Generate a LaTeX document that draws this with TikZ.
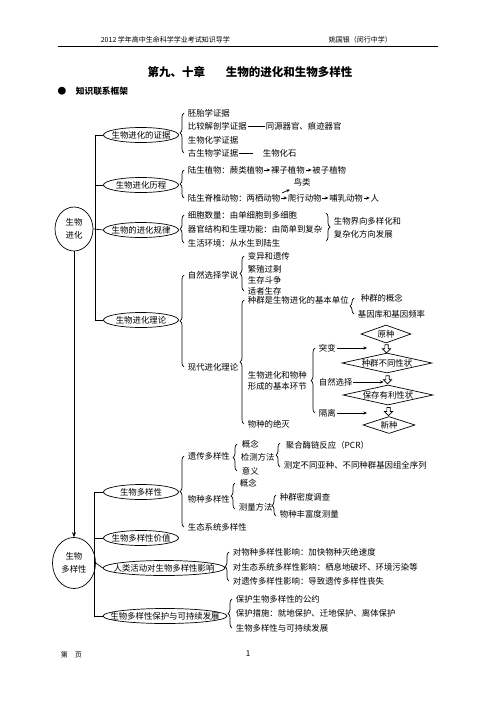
\documentclass[tikz,border=0pt]{standalone}
\usepackage{fontspec}
\setmainfont{Noto Sans CJK SC}
\usetikzlibrary{arrows.meta,shapes,calc,positioning,decorations.pathreplacing}
\tikzset{
	bubble/.style={minimum width=75,minimum height=15,inner sep=0pt},
	hub/.style={ellipse,draw,inner sep=0pt,align=center,font=\fontsize{8.4}{13}\selectfont},
	item/.style={anchor=west,inner sep=0.5pt},
	brc/.style={decorate,decoration={brace,amplitude=4pt}},
	flowbox/.style={diamond,draw,inner sep=0pt,aspect=4.5,minimum width=90,minimum height=20},
	hollow/.style={single arrow,draw,fill=white,rotate=-90,minimum height=8pt,minimum width=8pt,inner sep=1.3pt,single arrow head extend=2.5pt},
	arr/.style={-{Stealth[length=3.5pt,width=3pt]}},
}
\begin{document}
\begin{tikzpicture}[x=1pt,y=-1pt,line width=0.7pt,font=\fontsize{8.4}{10.5}\selectfont]
\useasboundingbox (0,0) rectangle (496,702);
% header
\node[item,font=\fontsize{7}{8}\selectfont] (hd) at (100,40) {2012 学年高中生命科学学业考试知识导学};
\node[item,font=\fontsize{7}{8}\selectfont] (au) at (328,40) {姚国银（闵行中学）};
\draw[line width=0.9pt] (58,46) -- (438,46);
\node[font=\bfseries\fontsize{11.5}{13}\selectfont] (title) at (250,72) {第九、十章\hspace{1.8em}生物的进化和生物多样性};
\node[font=\fontsize{8.7}{10}\selectfont] (bul) at (62,91) {●};
\node[item,font=\bfseries\fontsize{8.7}{10}\selectfont] (kf) at (75,91) {知识联系框架};

% hubs and first level
\node[hub,minimum width=38,minimum height=44] (evo) at (74,229) {生物\\进化};
\node[hub,minimum width=43,minimum height=51] (div) at (74,563) {生物\\多样性};
\node[bubble] (proof) at (141,135) {生物进化的证据};
\node[bubble] (course) at (141,185) {生物进化历程};
\node[bubble] (law) at (141,230) {生物的进化规律};
\node[bubble] (theory) at (141,320) {生物进化理论};
\node[bubble] (variety) at (141,492) {生物多样性};
\node[bubble] (value) at (141,538) {生物多样性价值};
\node[bubble,minimum width=122] (human) at (164,568) {人类活动对生物多样性影响};
\node[bubble,minimum width=124] (protect) at (165,616) {生物多样性保护与可持续发展};
\foreach \b/\r in {proof/37.5,course/37.5,law/37.5,theory/37.5,variety/37.5,value/37.5,human/61,protect/62}
	\draw (\b) ellipse [x radius=\r, y radius=7.5];
\draw (proof.west) -| ([xshift=-8pt]theory.west) -- (theory.west);
\draw (course.west) -- ++(-8,0);
\draw (evo.east) -- (law.west);
\draw (variety.west) -| ([xshift=-8pt]protect.west) -- (protect.west);
\draw (value.west) -- ++(-8,0);
\draw (div.east) -- (human.west);
\draw[-{Stealth[length=5pt,width=4pt]}] (evo.south) -- (div.north);

% evidence
\node[item] (pe) at (187,113) {胚胎学证据};
\node[item] (pc) at (187,126) {比较解剖学证据};
\node[item] (pb) at (187,140) {生物化学证据};
\node[item] (pg) at (187,153) {古生物学证据};
\node[item] (ph) at (265,126) {同源器官、痕迹器官};
\node[item] (pf) at (262,153) {生物化石};
\draw (pc.east) -- (ph.west);
\draw[shorten >=9pt] (pg.east) -- (pf.west);
\draw[brc] ([xshift=-3pt]pg.west) -- ([xshift=-3pt]pe.west);

% course
\node[item] (lp) at (187,170) {陆生植物：蕨类植物};
\node[item,right=6pt of lp] (lz) {裸子植物};
\node[item,right=6pt of lz] (lb) {被子植物};
\node[item] (lv) at (187,198) {陆生脊椎动物：两栖动物};
\node[item,right=6pt of lv] (pa) {爬行动物};
\node[item,right=6pt of pa] (mm) {哺乳动物};
\node[item,right=6pt of mm] (ren) {人};
\node (bird) at (302,182) {鸟类};
\draw[arr] (lp) -- (lz);
\draw[arr] (lz) -- (lb);
\draw[arr] (lv) -- (pa);
\draw[arr] (pa) -- (mm);
\draw[arr] (mm) -- (ren);
\draw[arr,shorten <=1pt] (lv.north east) -- (bird.south west);
\draw[brc] ([xshift=-3pt]lv.west) -- ([xshift=-3pt]lp.west);

% law
\node[item] (lc) at (187,215) {细胞数量：由单细胞到多细胞};
\node[item] (lo) at (187,229) {器官结构和生理功能：由简单到复杂};
\node[item] (le) at (187,243) {生活环境：从水生到陆生};
\draw[brc] ([xshift=-3pt]le.west) -- ([xshift=-3pt]lc.west);
\draw[brc] (326,213) -- (326,241);
\node[item,align=left,font=\fontsize{8.4}{13}\selectfont] (trend) at (333,227.5) {生物界向多样化和\\复杂化方向发展};

% theory
\node[item] (ns) at (187,275) {自然选择学说};
\node[item] (mt) at (187,367) {现代进化理论};
\draw[brc] ([xshift=-3pt]mt.west) -- ([xshift=-3pt]ns.west);
\node[item] (v1) at (247,256) {变异和遗传};
\node[item] (v2) at (247,269) {繁殖过剩};
\node[item] (v3) at (247,280) {生存斗争};
\node[item] (v4) at (247,291) {适者生存};
\draw[brc] ([xshift=-3pt]v4.west) -- ([xshift=-3pt]v1.west);
\node[item] (unit) at (247,300) {种群是生物进化的基本单位};
\node[item,align=left] (link) at (247,381) {生物进化和物种\\形成的基本环节};
\node[item] (ext) at (247,424) {物种的绝灭};
\draw[brc] ([xshift=-3pt]ext.west) -- ([xshift=-3pt]unit.west);
\node[item] (u1) at (360,298) {种群的概念};
\node[item] (u2) at (357,314) {基因库和基因频率};
\draw[brc] ([xshift=-3pt]u2.west) -- ([xshift=-3pt]u2.west |- u1.west);
\node[item] (mut) at (318,348) {突变};
\node[item] (sel) at (318,382) {自然选择};
\node[item] (iso) at (318,413) {隔离};
\draw[brc] ([xshift=-3pt]iso.west) -- ([xshift=-3pt]mut.west);

% speciation flow
\node[flowbox,aspect=3,minimum width=50,minimum height=18] (d1) at (386,334) {原种};
\node[flowbox] (d2) at (387,363) {种群不同性状};
\node[flowbox] (d3) at (388,395) {保存有利性状};
\node[flowbox,aspect=3,minimum width=52,minimum height=17] (d4) at (389,425) {新种};
\node[hollow] (h1) at ($(d1.south)!.5!(d2.north)$) {};
\node[hollow] (h2) at ($(d2.south)!.5!(d3.north)$) {};
\node[hollow] (h3) at ($(d3.south)!.5!(d4.north)$) {};
\coordinate (m1) at (367,348);
\coordinate (m3) at (367,413);
\draw[arr] (mut.east) -- (m1);
\draw[arr,shorten >=4pt] (sel.east) -- (sel.east -| h2.center);
\draw[arr] (iso.east) -- (m3);

% diversity
\node[item] (gd) at (187,456) {遗传多样性};
\node[item] (sd) at (187,499) {物种多样性};
\node[item] (ed) at (187,527) {生态系统多样性};
\draw[brc] ([xshift=-3pt]ed.west) -- ([xshift=-3pt]gd.west);
\node[item] (g1) at (241,444) {概念};
\node[item] (g2) at (240,457) {检测方法};
\node[item] (g3) at (241,471) {意义};
\draw[brc] ([xshift=-3pt]g2.west |- g3.west) -- ([xshift=-3pt]g2.west |- g1.west);
\node[item] (pcr) at (285,445) {聚合酶链反应（PCR）};
\node[item] (seq) at (283,465) {测定不同亚种、不同种群基因组全序列};
\draw[brc] ([xshift=-3pt]seq.west |- 0,467) -- ([xshift=-3pt]seq.west |- 0,443);
\node[item] (s1) at (239,483) {概念};
\node[item] (s2) at (238,507) {测量方法};
\draw[brc] ([xshift=-3pt]s2.west |- 0,509) -- ([xshift=-3pt]s2.west |- s1.west);
\node[item] (dens) at (279,497) {种群密度调查};
\node[item] (rich) at (279,514) {物种丰富度测量};
\draw[brc] ([xshift=-3pt]rich.west |- 0,516) -- ([xshift=-3pt]dens.west |- 0,495);

% human impact
\node[item] (hs) at (232,552) {对物种多样性影响：加快物种灭绝速度};
\node[item] (he) at (232,567) {对生态系统多样性影响：栖息地破坏、环境污染等};
\node[item] (hg) at (232,581) {对遗传多样性影响：导致遗传多样性丧失};
\draw[brc] ([xshift=-3pt]hg.west) -- ([xshift=-3pt]hs.west);

% protection
\node[item] (c1) at (235,599) {保护生物多样性的公约};
\node[item] (c2) at (235,613) {保护措施：就地保护、迁地保护、离体保护};
\node[item] (c3) at (235,628) {生物多样性与可持续发展};
\draw[brc] ([xshift=-3pt]c3.west) -- ([xshift=-3pt]c1.west);

% footer
\node[item,font=\fontsize{7}{8}\selectfont] (pgno) at (60,655) {第　页};
\node[font=\fontsize{8}{9}\selectfont] (num) at (248,654) {1};
\end{tikzpicture}
\end{document}
